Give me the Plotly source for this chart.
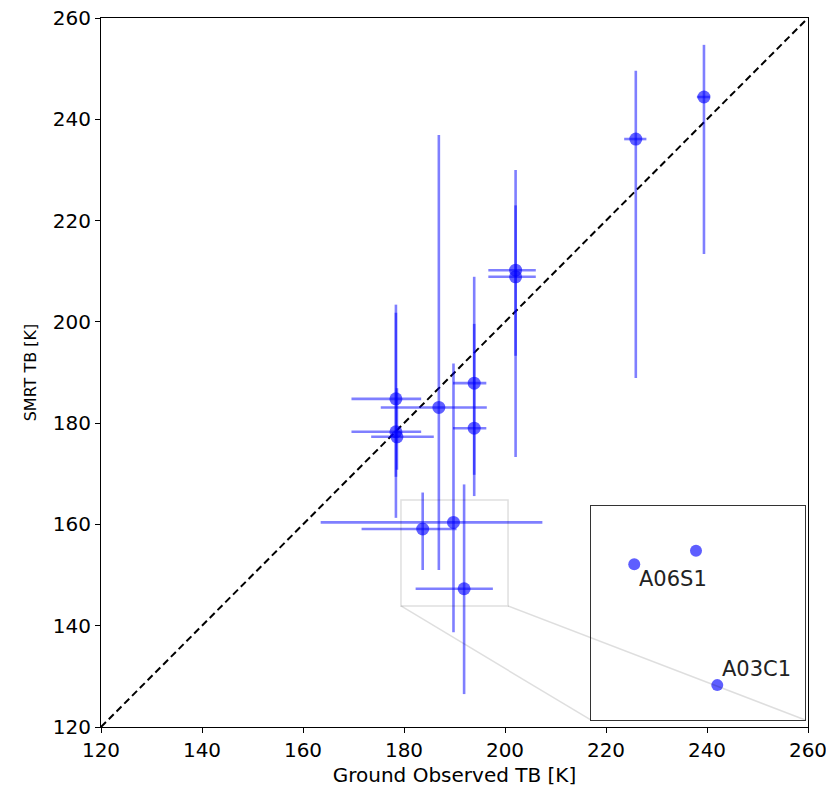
import plotly.graph_objects as go

# ---------------- data ----------------
ground_tb = [239.4, 225.9, 202.1, 202.1, 193.9, 193.9, 186.9, 178.4, 178.4, 178.6, 183.7, 189.8, 191.9]
smrt_tb = [244.4, 236.1, 210.2, 208.9, 187.9, 179.0, 183.1, 184.8, 178.3, 177.3, 159.1, 160.4, 147.3]
ground_err_minus = [1.4, 2.3, 5.4, 5.4, 4.2, 4.2, 11.5, 8.8, 8.8, 5.1, 12.1, 26.3, 9.6]
ground_err_plus = [1.2, 2.1, 4.0, 4.0, 2.4, 2.4, 9.5, 5.0, 5.0, 7.3, 6.7, 17.6, 5.7]
smrt_err_plus = [10.3, 13.5, 19.8, 14.1, 21.0, 20.6, 53.8, 18.6, 23.5, 9.6, 7.2, 31.4, 20.6]
smrt_err_minus = [31.0, 47.2, 36.9, 15.6, 22.3, 9.2, 32.1, 15.4, 17.0, 6.5, 8.1, 21.7, 20.8]

label_names = ["A06S1", "A03C1"]
label_index = [10, 12]

axis_range = [120, 260]
tick_vals = [120, 140, 160, 180, 200, 220, 240, 260]
inset_xrange = [179.4, 200.6]
inset_yrange = [143.9, 164.8]
inset_xdomain = [0.6927, 0.9962]
inset_ydomain = [0.0099, 0.3121]

blue_bar = "rgba(0,0,255,0.5)"
font_main = "DejaVu Sans"

fig = go.Figure()

# one-to-one line
fig.add_trace(go.Scatter(
    x=axis_range, y=axis_range, mode="lines",
    line=dict(color="black", width=2, dash="7px,4px"),
    hoverinfo="skip", showlegend=False,
))

# main scatter with asymmetric error bars (one trace per point for alpha overlap)
for i in range(len(ground_tb)):
    fig.add_trace(go.Scatter(
        x=[ground_tb[i]], y=[smrt_tb[i]], mode="markers",
        marker=dict(color="rgba(0,0,255,0.62)", size=13, line=dict(width=0)),
        error_x=dict(type="data", symmetric=False, array=[ground_err_plus[i]],
                     arrayminus=[ground_err_minus[i]], color=blue_bar, thickness=2.6, width=0),
        error_y=dict(type="data", symmetric=False, array=[smrt_err_plus[i]],
                     arrayminus=[smrt_err_minus[i]], color=blue_bar, thickness=2.6, width=0),
        showlegend=False,
    ))

# inset scatter
fig.add_trace(go.Scatter(
    x=ground_tb, y=smrt_tb, mode="markers", xaxis="x2", yaxis="y2",
    marker=dict(color="rgba(40,40,255,0.75)", size=12, line=dict(width=0)),
    cliponaxis=True, showlegend=False,
))

for name, idx in zip(label_names, label_index):
    if name == "A06S1":
        xs, ys, ya = 3, -1, "top"
    else:
        xs, ys, ya = 3, 2, "bottom"
    fig.add_annotation(
        x=ground_tb[idx], y=smrt_tb[idx], xref="x2", yref="y2", text=name,
        showarrow=False, xanchor="left", yanchor=ya, xshift=xs, yshift=ys,
        font=dict(family=font_main, size=21, color="#222"),
    )

# zoom rectangle and connectors (in main data coords)
def inset_corner(fx, fy):
    x = axis_range[0] + fx * (axis_range[1] - axis_range[0])
    y = axis_range[0] + fy * (axis_range[1] - axis_range[0])
    return x, y

gray = "rgba(0,0,0,0.13)"
fig.add_shape(type="rect", xref="x", yref="y",
              x0=inset_xrange[0], x1=inset_xrange[1], y0=inset_yrange[0], y1=inset_yrange[1],
              line=dict(color=gray, width=1.5), layer="above")
bl = inset_corner(inset_xdomain[0], inset_ydomain[0])
br = inset_corner(inset_xdomain[1], inset_ydomain[0])
fig.add_shape(type="line", xref="x", yref="y", x0=inset_xrange[0], y0=inset_yrange[0],
              x1=bl[0], y1=bl[1], line=dict(color=gray, width=1.5), layer="above")
fig.add_shape(type="line", xref="x", yref="y", x0=inset_xrange[1], y0=inset_yrange[0],
              x1=br[0], y1=br[1], line=dict(color=gray, width=1.5), layer="above")

axis_common = dict(
    showgrid=False, zeroline=False, showline=True, linecolor="black", linewidth=1,
    mirror=True, ticks="outside", ticklen=5, tickcolor="black", automargin=False,
    ticklabeloverflow="allow",
    tickfont=dict(family=font_main, size=20, color="black"),
)

fig.update_layout(
    width=826, height=783,
    margin=dict(l=93, r=26, t=10, b=64, pad=0),
    plot_bgcolor="white", paper_bgcolor="white",
    xaxis=dict(range=axis_range, tickvals=tick_vals, domain=[0, 1],
               title=dict(text="Ground Observed TB [K]", standoff=6,
                          font=dict(family=font_main, size=20, color="black")),
               **axis_common),
    yaxis=dict(range=axis_range, tickvals=tick_vals, domain=[0, 1],
               title=dict(text="SMRT TB [K]", standoff=12,
                          font=dict(family=font_main, size=16, color="black")),
               **axis_common),
    xaxis2=dict(range=inset_xrange, domain=inset_xdomain, anchor="y2",
                showgrid=False, zeroline=False, showline=True, linecolor="#333",
                linewidth=1.2, mirror=True, showticklabels=False, ticks=""),
    yaxis2=dict(range=inset_yrange, domain=inset_ydomain, anchor="x2",
                showgrid=False, zeroline=False, showline=True, linecolor="#333",
                linewidth=1.2, mirror=True, showticklabels=False, ticks=""),
)

fig.write_html("out.html")
